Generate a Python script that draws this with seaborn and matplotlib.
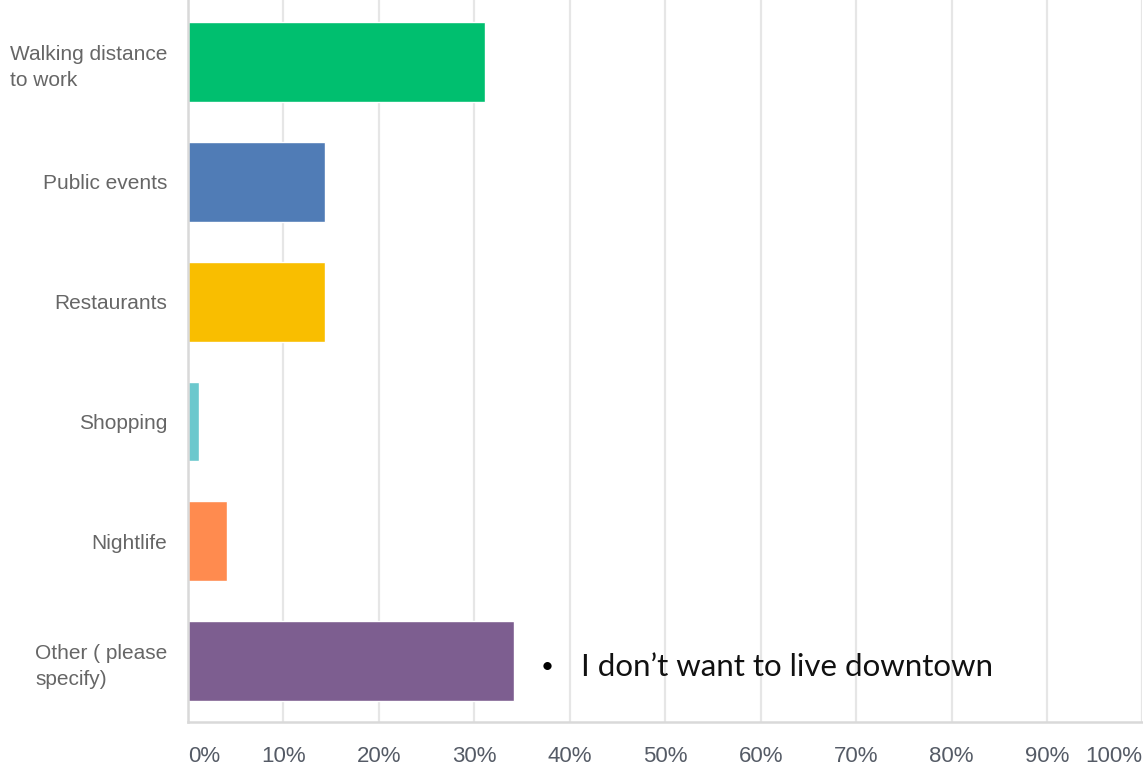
import matplotlib
matplotlib.use('Agg')
import matplotlib.pyplot as plt
import seaborn as sns
import pandas as pd

categories = ['Walking distance\nto work', 'Public events', 'Restaurants',
              'Shopping', 'Nightlife', 'Other ( please\nspecify)']
percents = [31.1, 14.4, 14.4, 1.1, 4.1, 34.2]
colors = ['#00BF6F', '#507CB6', '#F9BE00', '#6BC8CD', '#FF8B4F', '#7D5E90']
tick_values = [0, 10, 20, 30, 40, 50, 60, 70, 80, 90, 100]
tick_labels = [f'{v}%' for v in tick_values]
note = 'I don\u2019t want to live downtown'

df = pd.DataFrame({'category': categories, 'percent': percents})

sns.set_style('white')
plt.rcParams['font.family'] = ['Liberation Sans', 'DejaVu Sans']

fig = plt.figure(figsize=(11.43, 7.71), dpi=100)
ax = fig.add_axes([0.1645, 0.0636, 0.835, 0.9364])

sns.barplot(data=df, y='category', x='percent', hue='category',
            palette=colors, orient='h', width=0.667, legend=False,
            saturation=1, ax=ax)

ax.set_xlim(0, 100)
ax.set_ylim(5.51, -0.52)
ax.set_xticks(tick_values)
ax.set_xticklabels(tick_labels)
ax.set_xlabel('')
ax.set_ylabel('')

ax.grid(axis='x', color='#e6e6e6', linewidth=1.6)
ax.set_axisbelow(True)
for s in ['top', 'right']:
  ax.spines[s].set_visible(False)
for s in ['left', 'bottom']:
  ax.spines[s].set_color('#d9d9d9')
  ax.spines[s].set_linewidth(1.8)

ax.tick_params(axis='x', length=0, pad=17, labelsize=16, labelcolor='#555b66')
ax.tick_params(axis='y', length=0, pad=15, labelsize=15, labelcolor='#666666')
for lab in ax.get_yticklabels():
  lab.set_multialignment('left')
  if '\n' in lab.get_text():
    lab.set_linespacing(1.45)
xl = ax.get_xticklabels()
xl[0].set_horizontalalignment('left')
xl[-1].set_horizontalalignment('right')

ax.text(37.6, 5.05, '\u2022', fontsize=16, color='black', va='center', ha='center',
        family=['Lato', 'DejaVu Sans'])
ax.text(41.2, 5.05, note, fontsize=22.5, color='#111111', va='center', ha='left',
        family=['Lato', 'DejaVu Sans'])

fig.savefig('out.png', dpi=100)
